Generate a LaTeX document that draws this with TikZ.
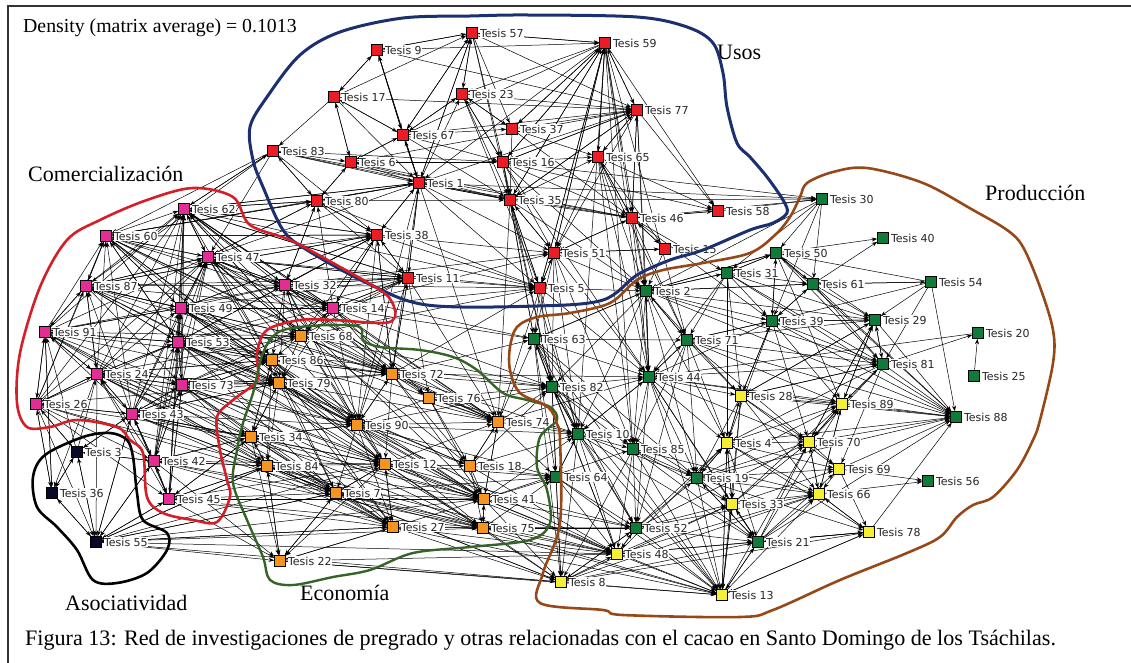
\documentclass[tikz,border=0pt]{standalone}
\usepackage{fontspec}
\setmainfont{Liberation Serif}
\newfontfamily\lblfont{DejaVu Sans}
\usetikzlibrary{arrows.meta}
\pgfdeclarelayer{edgesL}
\pgfdeclarelayer{hullL}
\pgfsetlayers{edgesL,main,hullL}
\definecolor{cR}{RGB}{236,28,36}
\definecolor{cP}{RGB}{228,44,150}
\definecolor{cO}{RGB}{247,148,30}
\definecolor{cG}{RGB}{16,122,56}
\definecolor{cY}{RGB}{246,238,50}
\definecolor{cK}{RGB}{8,8,40}
\definecolor{hBlue}{RGB}{28,48,112}
\definecolor{hRed}{RGB}{212,30,40}
\definecolor{hGreen}{RGB}{52,100,38}
\definecolor{hBrown}{RGB}{150,72,24}
\begin{document}
\begin{tikzpicture}[x=1pt,y=-1pt,
  nd/.style={draw=black,line width=0.6pt,minimum size=11pt,inner sep=0pt},
  lbl/.style={font=\lblfont\fontsize{11}{12}\selectfont,fill=white,inner sep=0.6pt,label distance=1.5pt,text=black!85},
  lnk/.style={draw=black,line width=0.5pt,-{Stealth[length=5.5pt,width=4pt]}},
  hull/.style={line width=2.6pt,line join=round},
  cat/.style={font=\fontsize{22}{24}\selectfont,anchor=base west,inner sep=0pt}]
\useasboundingbox (0,0) rectangle (1131,663);
\draw[line width=1.4pt,black!80] (8,663) -- (8,6) -- (1131,6);
% nodes
\foreach \n/\x/\y/\c in {
 9/377/50/cR, 57/472/33/cR, 59/605/43/cR, 17/334/97/cR, 23/462/94/cR, 77/637/110/cR, 67/403/135/cR, 37/512/129/cR, 83/273/151/cR, 6/351/162/cR, 16/503/162/cR, 65/598/157/cR, 1/419/183/cR, 35/510/200/cR, 80/317/201/cR, 46/632/218/cR, 58/718/211/cR, 38/377/235/cR, 51/554/253/cR, 15/665/249/cR, 11/408/278/cR, 5/540/288/cR,
 62/184/209/cP, 60/106/236/cP, 47/208/257/cP, 87/86/286/cP, 32/285/285/cP, 14/333/308/cP, 49/181/308/cP, 91/45/332/cP, 53/178/342/cP, 24/97/374/cP, 73/182/385/cP, 26/36/404/cP, 43/132/414/cP, 42/154/461/cP, 45/169/499/cP,
 68/301/336/cO, 86/272/360/cO, 79/279/383/cO, 72/392/374/cO, 76/429/398/cO, 34/251/437/cO, 90/357/425/cO, 74/498/422/cO, 84/267/466/cO, 12/385/464/cO, 18/470/466/cO, 7/336/493/cO, 41/484/499/cO, 27/393/527/cO, 75/483/528/cO, 22/280/561/cO,
 3/77/452/cK, 36/52/493/cK, 55/96/542/cK,
 30/822/199/cG, 50/776/253/cG, 40/883/238/cG, 31/727/273/cG, 61/813/284/cG, 54/931/282/cG, 2/646/291/cG, 39/772/321/cG, 29/875/320/cG, 20/978/333/cG, 63/534/339/cG, 71/687/340/cG, 81/883/364/cG, 25/974/376/cG, 82/552/387/cG, 44/649/377/cG, 88/956/417/cG, 10/578/434/cG, 85/633/449/cG, 64/556/477/cG, 56/928/481/cG, 52/636/528/cG, 21/758/542/cG, 19/697/478/cG,
 28/741/396/cY, 89/842/404/cY, 4/727/443/cY, 70/809/442/cY, 69/839/469/cY, 66/819/494/cY, 33/732/504/cY, 78/869/532/cY, 48/617/554/cY, 8/561/582/cY, 13/722/595/cY}
 {\node[nd,fill=\c,label={[lbl]right:Tesis \n}] (n\n) at (\x,\y) {};}
% edges
\begin{pgfonlayer}{edgesL}
\foreach \s/\tl in {
 60/{62,47,87,32,49,53,68,86,38,80,14,72,90,74,12},
 87/{60,62,47,49,53,91,24,32,68,73,14,86,79,90,72,38,11},
 91/{60,87,62,47,49,53,24,26,36,73,32,68,86,79,34,84,7},
 24/{91,60,87,62,47,49,53,43,26,73,36,55,68,86,79,34,84,7,90,12,27},
 26/{91,24,87,60,62,43,36,55,3,47,53,34,84,7,42,45},
 43/{24,26,91,87,60,62,47,49,53,73,42,45,3,55,86,79,34,84,7,90,12,27,41},
 42/{43,45,24,73,53,49,47,62,3,55,34,84,7,27,12,22,75},
 45/{42,43,24,73,53,49,62,55,7,84,34,22,27,75,41,12},
 73/{53,49,47,62,24,43,42,45,86,79,68,72,34,90,12,7,27,41,75,84},
 53/{49,47,62,60,87,91,24,73,32,14,68,86,79,72,82,90,12,18,41,75,27,7},
 49/{47,62,60,87,91,53,32,14,68,86,72,38,79,90,12,41,74},
 47/{62,60,87,49,32,14,80,38,68,11,5,72,90,79,86,74,18},
 32/{62,47,14,38,80,68,86,11,5,72,51,63,79,90,74,76,12},
 14/{32,62,47,38,80,11,5,68,72,51,63,79,90,76,74,82},
 62/{80,38,83,11,5,32,14,47,1,68,86,72,74,41},
 3/{36,55,43,26,42,24,91},
 36/{55,3,26,91},
 55/{36,3,7,84,12,27,41,75,42,45,43,8,48,22},
 68/{72,86,79,90,74,12,32,14,62,47,53,82,5,11},
 86/{79,72,90,34,84,7,12,74,53,73,49,24,43,41,27},
 79/{72,90,34,84,7,12,18,74,41,27,73,53,43,24,26},
 72/{76,74,90,82,63,18,12,41,11,5,38,86,44,10},
 76/{74,82,90,41,18,10},
 90/{74,18,12,41,75,27,7,82,72,34,10,64,48},
 34/{84,7,27,22,90,12,79,86,43,42,45,41,75},
 84/{7,27,22,12,41,75,34,55,45,42,8,48},
 12/{41,75,27,18,7,64,74,22,48,8,52},
 18/{41,75,74,64,10,82,48},
 7/{27,75,41,22,12,84,55,13,8,48,64},
 41/{75,64,48,8,10,74,52,85,13},
 27/{75,41,48,8,22,55,12,13,52},
 75/{41,48,8,64,52,13},
 74/{82,10,64,41,18,63,44},
 22/{84,7,27,8,48,13},
 9/{57,1,17,67,59,77},
 57/{23,67,1,16,35,59,77,37,9},
 59/{67,1,16,35,5,51,2,46,65,77,58,37,23,57,44,71,85,10},
 17/{9,57,77,6,1,67,83},
 23/{57,16,5,37,67,77,35},
 77/{65,46,58,59,51,35,16,2,44},
 67/{1,23,57,77,37,16,17,9,35,6},
 37/{77,59,23,35,65,46},
 83/{6,80,1,16,35,46,62,38,60,87,47},
 6/{67,1,16,77,35,46,80,17},
 16/{35,65,46,77,58,30,59,2,51,23,82,63,44},
 65/{46,77,15,2,51,59,58,44,71,85},
 1/{67,9,57,23,46,35,38,11,80,5,51,77,30,72,90,74,62,60,47},
 35/{46,30,51,5,59,77,65,2,1,74,82,63,10},
 80/{83,6,1,38,11,5,35,62,47,60,32},
 46/{58,30,2,15,65,77,51,44,71,31,39},
 58/{46,30},
 38/{11,5,51,1,80,62,32,14,72,68,90,60,87,49,53},
 51/{5,2,35,59,46,15,44,63,82,10,85},
 15/{2,46,51},
 11/{5,38,1,62,14,32,72,74,90,76,47,49,53,73},
 5/{2,51,35,59,63,82,74,10,44},
 30/{2,31,50,39,61},
 50/{40,61,39,31,2,29,88,81,89},
 31/{2,61,39,50,29,44,88,71,81,28,4},
 61/{40,39,29,54,50,2,81,88},
 54/{61,50,39,29,88,81},
 2/{44,71,39,61,50,31,63,82,10,85,88,29,81,28,4,19},
 39/{29,61,81,88,71,44,50,89,28,4,70},
 29/{81,39,88,89,70,28},
 20/{44},
 25/{20},
 63/{82,44,10,8,48,64,2,71,85,13,52,19},
 71/{44,88,85,29,39,81,2,28,52,89,70,4,19},
 81/{88,29,20,89,4,70,28,69},
 82/{10,44,64,8,48,52,63,85,13,19},
 44/{85,52,10,2,71,28,4,88,19,81,89,70,33,13,21},
 10/{64,85,52,8,48,44,82,13,19,21},
 85/{52,19,8,13,48,21,33,66},
 64/{52,8,48,10,13},
 52/{13,21,48,8,19,33,66,4,70},
 21/{13,78,66,33,70,89,19,88,69},
 19/{33,66,70,4,13,21,69,89,78,88},
 28/{89,70,4,88,69,66,29,39,81,13,33,19},
 89/{88,81,29,70,66},
 4/{70,89,69,66,19,33,88,28,13,21,78},
 70/{69,66,89,88,29},
 69/{56,66,78,88},
 66/{56,78,89,70},
 33/{21,66,70,89,13,4,69},
 78/{66,21,13,88},
 48/{21,13,52,33,66,78,4},
 8/{13,48,21,52,33,66,78},
 13/{21,33,66,78,70,4}}
 {\foreach \t in \tl {\draw[lnk] (n\s) -- (n\t);}}
\end{pgfonlayer}
% hulls
\begin{pgfonlayer}{hullL}
\draw[hull,hBlue,line width=3pt] plot[smooth cycle,tension=0.55] coordinates {
 (403,18) (470,16) (527,15) (637,17) (687,27) (713,43) (723,73) (727,107) (737,143) (750,157) (767,177) (783,200) (787,213) (773,223) (750,230) (703,250) (670,260) (637,275) (603,300) (537,306) (427,305) (367,283) (307,250) (283,230) (263,187) (253,160) (250,127) (267,97) (300,55) (340,32)};
\draw[hull,hRed] plot[smooth cycle,tension=0.55] coordinates {
 (233,197) (250,225) (290,240) (333,263) (380,290) (392,302) (395,317) (383,323) (333,320) (300,320) (267,330) (257,353) (257,380) (233,400) (217,417) (220,450) (227,480) (230,497) (217,522) (193,520) (163,513) (147,497) (143,453) (130,440) (117,427) (77,420) (50,427) (27,427) (17,403) (20,353) (40,287) (67,240) (100,220) (147,200) (193,188)};
\draw[hull,black] plot[smooth cycle,tension=0.55] coordinates {
 (45,455) (83,437) (110,433) (127,440) (133,457) (137,493) (143,520) (167,533) (167,550) (147,573) (117,583) (93,580) (77,550) (57,527) (37,507) (33,477)};
\draw[hull,hGreen,line width=2.4pt] plot[smooth cycle,tension=0.55] coordinates {
 (380,347) (420,350) (453,357) (477,370) (503,393) (527,400) (550,407) (557,420) (540,437) (537,467) (547,490) (550,523) (530,540) (470,547) (413,553) (370,570) (333,577) (293,585) (270,580) (263,557) (247,520) (233,483) (237,450) (243,423) (253,393) (263,353) (277,333) (300,327) (333,325) (360,327) (363,340)};
\draw[hull,hBrown] plot[smooth cycle,tension=0.55] coordinates {
 (867,168) (923,183) (973,210) (1007,230) (1023,247) (1040,287) (1053,330) (1053,363) (1040,420) (1033,440) (1017,470) (993,497) (973,505) (957,517) (940,537) (907,553) (840,580) (773,610) (740,617) (623,615) (603,610) (540,603) (543,573) (560,523) (560,440) (557,424) (548,407) (520,393) (510,370) (510,347) (517,327) (537,317) (570,313) (610,303) (637,280) (663,270) (703,263) (750,253) (775,235) (790,217) (800,197) (807,183) (833,172)};
\end{pgfonlayer}
% texts
\node[cat,font=\fontsize{19.8}{22}\selectfont] (dens) at (23,33) {Density (matrix average) = 0.1013};
\node[cat] (tUsos) at (717,60) {Usos};
\node[cat] (tProd) at (985,200) {Producción};
\node[cat] (tCom) at (28,182) {Comercialización};
\node[cat] (tAso) at (65,610) {Asociatividad};
\node[cat] (tEco) at (300,600) {Economía};
\node[cat,font=\fontsize{22.1}{24}\selectfont] (cap) at (25,645) {Figura 13: Red de investigaciones de pregrado y otras relacionadas con el cacao en Santo Domingo de los Tsáchilas.};
\end{tikzpicture}
\end{document}
